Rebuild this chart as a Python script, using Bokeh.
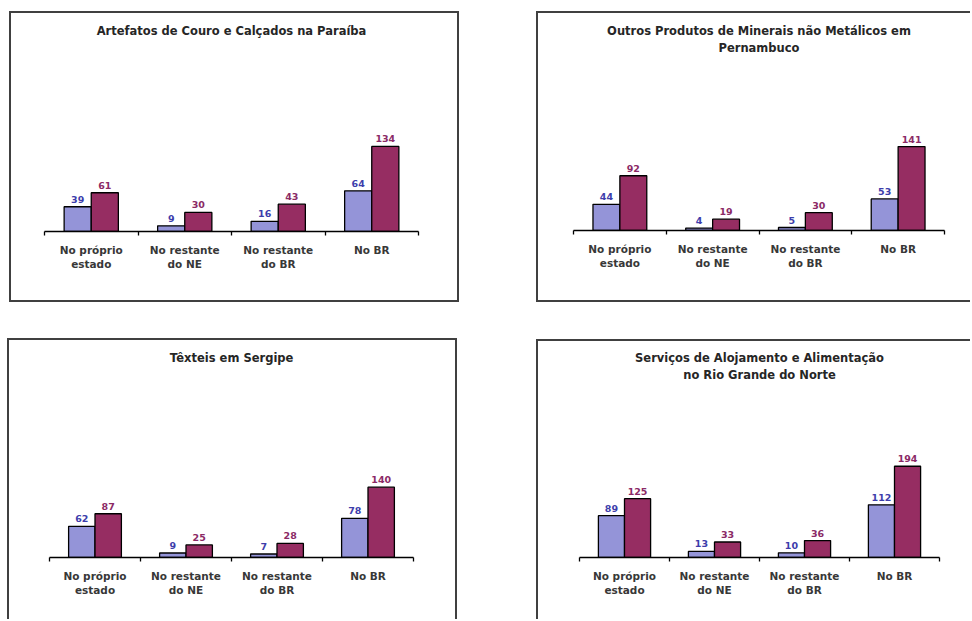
from bokeh.plotting import figure
from bokeh.layouts import row, column
from bokeh.models import Range1d, FixedTicker, Spacer, Title
from bokeh.embed import file_html
from bokeh.resources import INLINE

# Categories shared by the four panels
categorias = ["No próprio\nestado", "No restante\ndo NE", "No restante\ndo BR", "No BR"]

# Artefatos de Couro e Calçados na Paraíba
couro_pb_1 = [39, 9, 16, 64]
couro_pb_2 = [61, 30, 43, 134]

# Outros Produtos de Minerais não Metálicos em Pernambuco
minerais_pe_1 = [44, 4, 5, 53]
minerais_pe_2 = [92, 19, 30, 141]

# Têxteis em Sergipe
texteis_se_1 = [62, 9, 7, 78]
texteis_se_2 = [87, 25, 28, 140]

# Serviços de Alojamento e Alimentação no Rio Grande do Norte
alojamento_rn_1 = [89, 13, 10, 112]
alojamento_rn_2 = [125, 33, 36, 194]

COR_1 = "#9494d8"
COR_2 = "#962d62"
TXT_1 = "#3d3dab"
TXT_2 = "#8b2a66"
FONTE = "DejaVu Sans"
BORDA = "2px solid #404040"


def painel(titulo, serie1, serie2, largura, altura, mb, y_max, lados):
    left, right, top, bottom = mb
    p = figure(width=largura, height=altura, output_backend="svg",
               toolbar_location=None, y_axis_location=None,
               x_range=Range1d(0, len(categorias)), y_range=Range1d(0, y_max),
               min_border_left=left, min_border_right=right,
               min_border_top=top, min_border_bottom=bottom,
               styles={f"border-{s}": BORDA for s in lados})
    p.outline_line_color = None
    p.grid.visible = False
    p.background_fill_color = "white"
    p.border_fill_color = "white"

    for i, linha in enumerate(reversed(titulo)):
        t = Title(text=linha, align="center", text_font=FONTE,
                  text_font_size="11.5px", text_font_style="bold",
                  text_color="#262626", standoff=2 if i == 0 else 0)
        p.add_layout(t, "above")

    centros = [i + 0.5 for i in range(len(categorias))]
    w = 0.29
    x1 = [c - w / 2 for c in centros]
    x2 = [c + w / 2 for c in centros]
    p.vbar(x=x1, top=serie1, width=w, fill_color=COR_1,
           line_color="black", line_width=1.3)
    p.vbar(x=x2, top=serie2, width=w, fill_color=COR_2,
           line_color="black", line_width=1.3)

    p.text(x=x1, y=serie1, text=[str(v) for v in serie1], y_offset=-4,
           text_align="center", text_baseline="bottom", text_color=TXT_1,
           text_font={"value": FONTE}, text_font_size="9.5px",
           text_font_style="bold")
    p.text(x=x2, y=serie2, text=[str(v) for v in serie2], y_offset=-4,
           text_align="center", text_baseline="bottom", text_color=TXT_2,
           text_font={"value": FONTE}, text_font_size="9.5px",
           text_font_style="bold")

    ax = p.xaxis[0]
    ax.ticker = FixedTicker(ticks=centros,
                            minor_ticks=list(range(len(categorias) + 1)))
    ax.major_label_overrides = {c: n for c, n in zip(centros, categorias)}
    ax.major_tick_out = 0
    ax.major_tick_in = 0
    ax.minor_tick_out = 4
    ax.minor_tick_in = 0
    ax.minor_tick_line_color = "black"
    ax.minor_tick_line_width = 1.3
    ax.axis_line_color = "black"
    ax.axis_line_width = 1.3
    ax.major_label_standoff = 8
    ax.major_label_text_font = FONTE
    ax.major_label_text_font_size = "10.5px"
    ax.major_label_text_font_style = "bold"
    ax.major_label_text_color = "#383838"
    ax.major_label_orientation = "horizontal"
    return p


p1 = painel(["Artefatos de Couro e Calçados na Paraíba"],
            couro_pb_1, couro_pb_2, 450, 291, (33, 43, 25, 73), 304,
            ["left", "right", "top", "bottom"])
p2 = painel(["Outros Produtos de Minerais não Metálicos em", "Pernambuco"],
            minerais_pe_1, minerais_pe_2, 434, 291, (35, 28, 42, 74), 294,
            ["left", "top", "bottom"])
p3 = painel(["Têxteis em Sergipe"],
            texteis_se_1, texteis_se_2, 450, 281, (40, 46, 25, 64), 382,
            ["left", "right", "top"])
p4 = painel(["Serviços de Alojamento e Alimentação", "no Rio Grande do Norte"],
            alojamento_rn_1, alojamento_rn_2, 434, 280, (41, 33, 41, 64), 372,
            ["left", "top"])

# each panel sits in its own row so that the frames are laid out independently
col_esq = column(Spacer(height=11), row(Spacer(width=2), p1),
                 Spacer(height=36), row(p3), spacing=0)
col_dir = column(Spacer(height=11), row(p2), Spacer(height=37), row(p4),
                 spacing=0)
layout = row(Spacer(width=7), col_esq, Spacer(width=77), col_dir, spacing=0)

open("out.html", "w").write(file_html(layout, INLINE))
